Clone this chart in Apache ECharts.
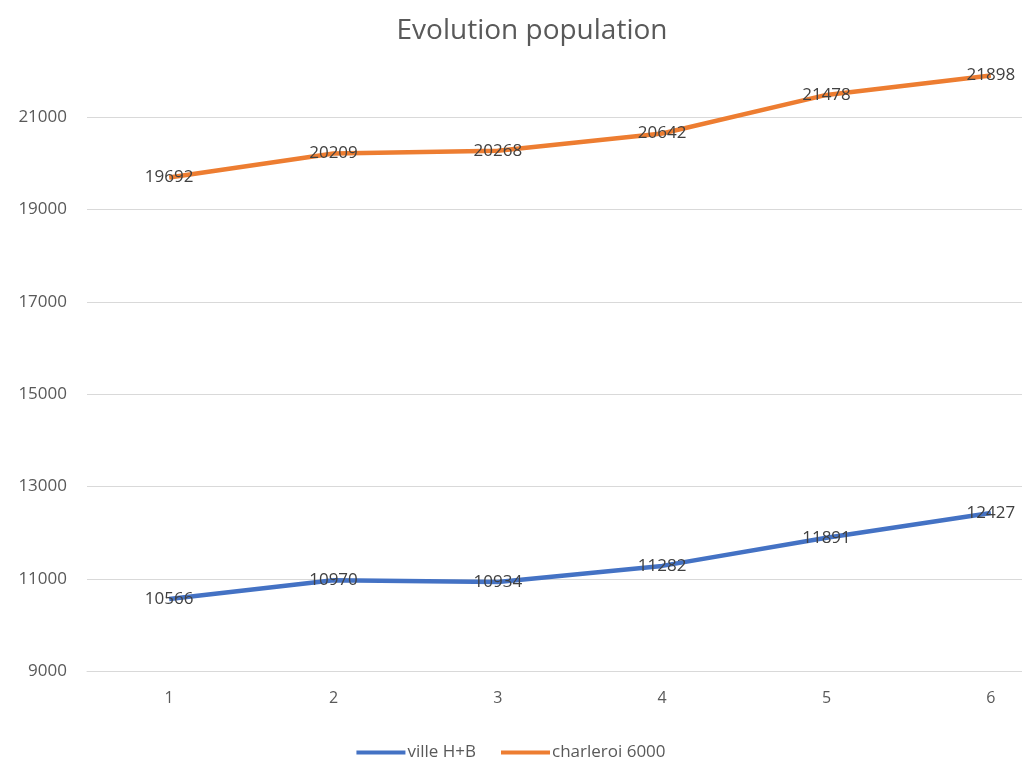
<!DOCTYPE html>
<html><head><meta charset="utf-8">
<script src="https://cdn.jsdelivr.net/npm/echarts@6/dist/echarts.min.js"></script>
<style>html,body{margin:0;padding:0;background:#fff}#c{width:1022px;height:762px}</style>
</head><body><div id="c"></div>
<script>
var categories = ['1','2','3','4','5','6'];
var villeHB = [10566, 10970, 10934, 11282, 11891, 12427];
var charleroi = [19692, 20209, 20268, 20642, 21478, 21898];
var yMin = 9000, yMax = 22000, yStep = 2000;
var FONT = 'Open Sans';
var chart = echarts.init(document.getElementById('c'));
var lbl = {show:true, position:'inside', color:'#404040', fontSize:17, fontFamily:FONT};
chart.setOption({
  animation:false,
  title:{text:'Evolution population', left:527, top:12, textAlign:'center',
    textStyle:{fontSize:28, fontWeight:'normal', color:'#595959', fontFamily:FONT}},
  legend:{top:739, left:'center', icon:'rect', itemWidth:49, itemHeight:4, itemGap:25,
    textStyle:{fontSize:17, color:'#595959', fontFamily:FONT, padding:[0,0,0,-3]},
    data:['ville H+B','charleroi 6000']},
  grid:{left:87, top:70.8, width:986, height:600.5, containLabel:false, outerBoundsMode:'none'},
  xAxis:{type:'category', data:categories, boundaryGap:true,
    axisLine:{lineStyle:{color:'#d9d9d9', width:1}}, axisTick:{show:false},
    axisLabel:{color:'#595959', fontSize:16, fontFamily:FONT, margin:19}},
  yAxis:{type:'value', min:yMin, max:yMax, interval:yStep,
    axisLine:{show:false}, axisTick:{show:false},
    axisLabel:{color:'#595959', fontSize:17, fontFamily:FONT, margin:20, showMaxLabel:false,
      formatter:function(v){return String(v);}},
    splitLine:{lineStyle:{color:['#d9d9d9','#d9d9d9','#d9d9d9','#d9d9d9','#d9d9d9','#d9d9d9','#d9d9d9','rgba(0,0,0,0)'], width:1}}},
  series:[
    {name:'ville H+B', type:'line', data:villeHB, showSymbol:true, symbol:'circle', symbolSize:0.01,
      lineStyle:{color:'#4472C4', width:4.5}, itemStyle:{color:'#4472C4'}, label:lbl},
    {name:'charleroi 6000', type:'line', data:charleroi, showSymbol:true, symbol:'circle', symbolSize:0.01,
      lineStyle:{color:'#ED7D31', width:4.5}, itemStyle:{color:'#ED7D31'}, label:lbl}
  ]
});
</script></body></html>
